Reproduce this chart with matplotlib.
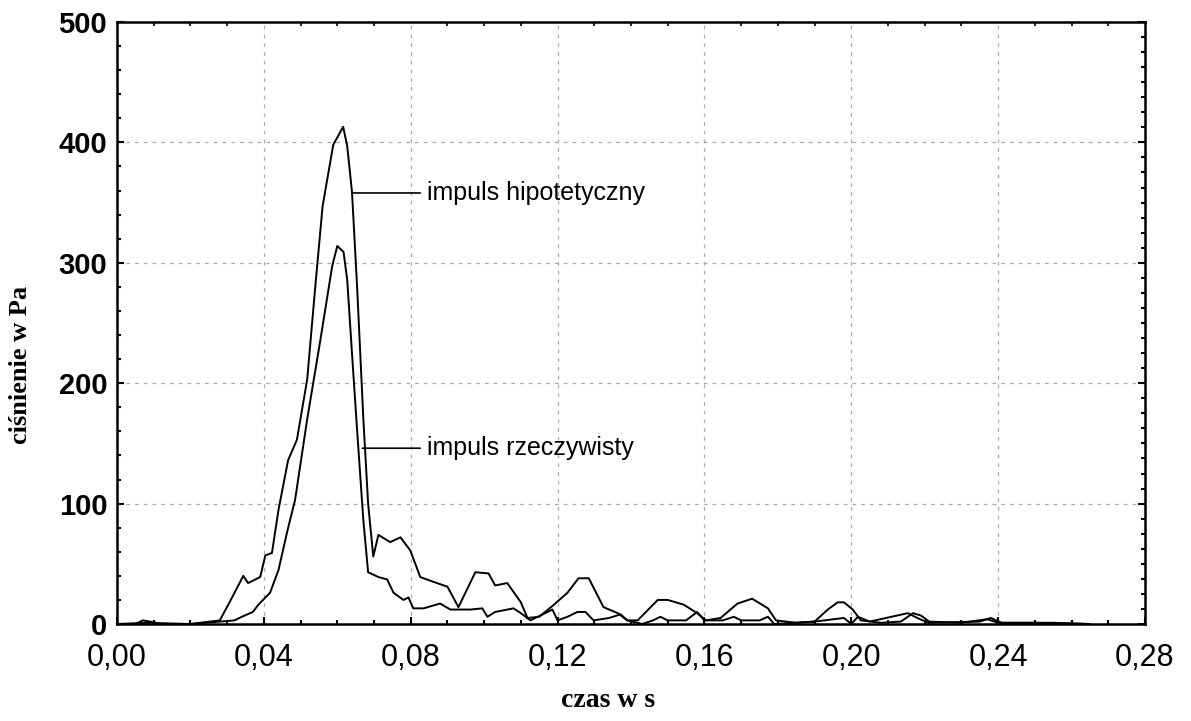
import matplotlib
matplotlib.use("Agg")
import matplotlib.pyplot as plt
from matplotlib.ticker import MultipleLocator, FuncFormatter

# ---- data ----
t_hip = [0.000, 0.005, 0.007, 0.009, 0.012, 0.020, 0.028, 0.031, 0.0344, 0.0357, 0.039, 0.0404,
         0.0422, 0.044, 0.0466, 0.049, 0.0518, 0.054, 0.056, 0.0589, 0.0616, 0.0627, 0.064, 0.0654,
         0.0671, 0.0684, 0.0698, 0.0712, 0.0744, 0.0772, 0.0799, 0.0826, 0.0862, 0.090,
         0.093, 0.0976, 0.1012, 0.103, 0.1063, 0.110, 0.1118, 0.115, 0.119, 0.1227,
         0.1257, 0.1285, 0.1325, 0.1364, 0.139, 0.1418, 0.1473, 0.150, 0.1544, 0.158,
         0.1604, 0.1644, 0.169, 0.173, 0.1773, 0.1795, 0.185, 0.190, 0.1936, 0.1963,
         0.198, 0.2004, 0.2026, 0.208, 0.2135, 0.2168, 0.219, 0.2212, 0.230, 0.237,
         0.240, 0.250, 0.265]
v_hip = [0, 0, 3, 2, 0, 0, 3, 20, 40, 34, 39, 57,
         59, 95, 136, 153, 203, 280, 347, 398, 413, 397, 359, 280,
         170, 100, 56, 74, 68, 72, 61, 39, 35, 31,
         14, 43, 42, 32, 34, 18, 5, 6, 16, 26,
         38, 38, 14, 9, 3, 3, 20, 20, 16, 9,
         3, 5, 17, 21, 13, 3, 1, 2, 12, 18,
         18, 12, 3, 1, 2, 9, 7, 2, 1, 4,
         1, 1, 0]

t_rze = [0.000, 0.008, 0.020, 0.032, 0.034, 0.037, 0.0385, 0.0417, 0.044, 0.0463,
         0.0485, 0.0518, 0.0554, 0.0586, 0.060, 0.0617, 0.0627, 0.064, 0.0654, 0.0671,
         0.0684, 0.0712, 0.0736, 0.0753, 0.078, 0.0794, 0.0807, 0.0835, 0.088, 0.0908,
         0.0963, 0.0995, 0.1009, 0.103, 0.108, 0.110, 0.1126, 0.1173, 0.1186, 0.120,
         0.1227, 0.1254, 0.1276, 0.1298, 0.134, 0.1372, 0.139, 0.143, 0.146, 0.148,
         0.150, 0.155, 0.158, 0.160, 0.165, 0.168, 0.170, 0.175, 0.1773, 0.179,
         0.190, 0.198, 0.200, 0.2018, 0.205, 0.2154, 0.218, 0.221, 0.235, 0.238,
         0.241, 0.255, 0.265]
v_rze = [0, 1, 0, 3, 6, 10, 16, 26, 45, 76,
         103, 170, 236, 297, 314, 309, 286, 225, 161, 86,
         43, 39, 37, 26, 20, 22, 13, 13, 17, 12,
         12, 13, 6, 10, 13, 9, 3, 10, 12, 3,
         6, 10, 10, 3, 5, 8, 3, 0, 3, 6,
         3, 3, 10, 3, 3, 6, 3, 3, 6, 0,
         2, 5, 0, 6, 2, 9, 5, 1, 2, 5,
         1, 1, 0]

label_hip = "impuls hipotetyczny"
label_rze = "impuls rzeczywisty"
x_ticks = [0.00, 0.04, 0.08, 0.12, 0.16, 0.20, 0.24, 0.28]
y_ticks = [0, 100, 200, 300, 400, 500]

# ---- figure ----
fig = plt.figure(figsize=(11.91, 7.21), dpi=100)
ax = fig.add_axes([117/1191, 1 - 624/721, (1145-117)/1191, (624-22)/721])

ax.plot(t_hip, v_hip, color="black", lw=1.4)
ax.plot(t_rze, v_rze, color="black", lw=1.4)

ax.set_xlim(0, 0.28)
ax.set_ylim(0, 500)
ax.set_xticks(x_ticks)
ax.set_yticks(y_ticks)
ax.xaxis.set_major_formatter(FuncFormatter(lambda v, p: f"{v:.2f}".replace(".", ",")))
ax.xaxis.set_minor_locator(MultipleLocator(0.01))
ax.yaxis.set_minor_locator(MultipleLocator(20))

ax.grid(True, which="major", color="#aaaaaa", linestyle=(0, (3, 4)), lw=0.9)
ax.tick_params(axis="both", which="both", direction="in", color="black")
ax.tick_params(axis="both", which="major", length=5, width=1.5)
ax.tick_params(axis="both", which="minor", length=3, width=1.5)
ax.tick_params(axis="y", which="major", pad=7)
ax.tick_params(axis="x", which="major", pad=14)

for lab in ax.get_yticklabels():
    lab.set_fontfamily("Liberation Sans")
    lab.set_fontweight("bold")
    lab.set_fontsize(21)
for lab in ax.get_xticklabels():
    lab.set_fontfamily("Liberation Sans")
    lab.set_fontsize(22)

for s in ax.spines.values():
    s.set_linewidth(1.8)

# right axis ticks (finer minor spacing)
axr = ax.twinx()
axr.set_ylim(0, 500)
axr.yaxis.set_major_locator(MultipleLocator(100))
axr.yaxis.set_minor_locator(MultipleLocator(12.5))
axr.tick_params(axis="y", which="both", direction="in", labelright=False, width=1.5)
axr.tick_params(axis="y", which="major", length=5)
axr.tick_params(axis="y", which="minor", length=3)
for s in axr.spines.values():
    s.set_visible(False)

# top axis ticks
axt = ax.twiny()
axt.set_xlim(0, 0.28)
axt.xaxis.set_major_locator(MultipleLocator(0.04))
axt.xaxis.set_minor_locator(MultipleLocator(0.01))
axt.tick_params(axis="x", which="both", direction="in", labeltop=False, width=1.2)
axt.tick_params(axis="x", which="major", length=0)
axt.tick_params(axis="x", which="minor", length=3)
for s in axt.spines.values():
    s.set_visible(False)

ax.set_xlabel("czas w s", fontfamily="Liberation Serif", fontweight="bold", fontsize=20)
ax.xaxis.set_label_coords(0.478, -0.106)
ax.set_ylabel("ciśnienie w Pa", fontfamily="Liberation Serif", fontweight="bold", fontsize=19)
ax.yaxis.set_label_coords(-0.083, 0.43)

ann_kw = dict(fontsize=18, fontfamily="Liberation Sans", va="center", ha="left",
              arrowprops=dict(arrowstyle="-", color="black", lw=1.2, shrinkA=3, shrinkB=0))
ax.annotate(label_hip, xy=(0.0641, 358), xytext=(0.0845, 358), **ann_kw)
ax.annotate(label_rze, xy=(0.0668, 146), xytext=(0.0845, 146), **ann_kw)

fig.savefig("out.png", dpi=100)
